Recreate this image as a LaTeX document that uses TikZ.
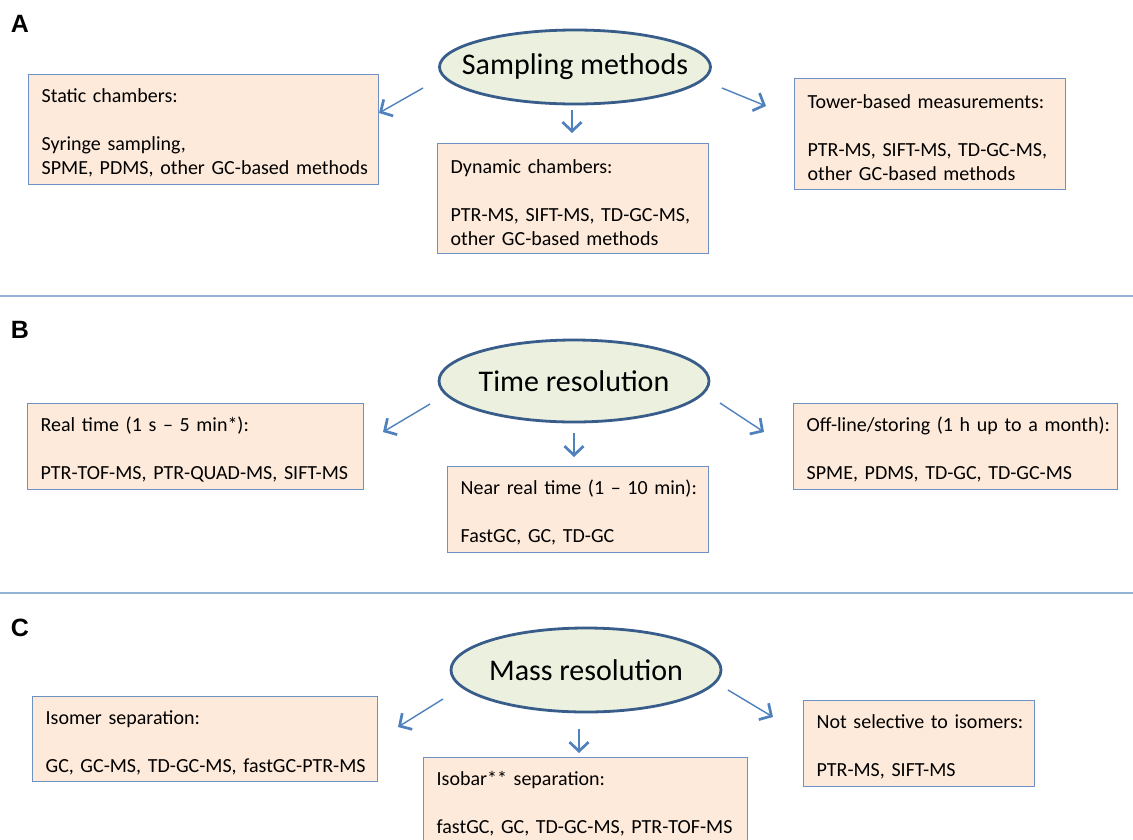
\documentclass[tikz,border=0pt]{standalone}
\usepackage{fontspec}
\setmainfont{Carlito}
\newfontfamily\lblfont{Liberation Sans}
\usetikzlibrary{arrows.meta,shapes.geometric}
\definecolor{boxfill}{RGB}{253,234,218}
\definecolor{boxline}{RGB}{110,145,195}
\definecolor{ellfill}{RGB}{235,241,222}
\definecolor{ellline}{RGB}{56,93,138}
\definecolor{arrcol}{RGB}{79,129,189}
\definecolor{sepcol}{RGB}{149,179,215}
\newcommand\tgap{\rule{0pt}{21pt}}
\begin{document}
\begin{tikzpicture}[x=1pt,y=-1pt,
  infobox/.style={draw=boxline, line width=1.3pt, fill=boxfill, rectangle,
    anchor=north west, inner xsep=13pt, inner ysep=0pt, align=left,
    font=\fontsize{20}{24}\selectfont},
  topic/.style={draw=ellline, line width=2.8pt, fill=ellfill, ellipse,
    inner sep=0pt},
  topictext/.style={font=\fontsize{30}{36}\selectfont, inner sep=0pt},
  panellabel/.style={font=\lblfont\bfseries\fontsize{25}{30}\selectfont, inner sep=0pt},
  sepline/.style={draw=sepcol, line width=2pt},
  arr/.style={draw=arrcol, line width=1.4pt,
    -{Straight Barb[length=9pt,width=19pt,line width=2.7pt]}}]
\useasboundingbox (0,0) rectangle (1133,839);
\fill[white] (0,0) rectangle (1133,839);
\clip (0,0) rectangle (1133,839);

% panel labels
\node[panellabel] (labA) at (20,24) {A};
\node[panellabel] (labB) at (20,330) {B};
\node[panellabel] (labC) at (20,628) {C};

% separators
\coordinate (s1a) at (0,296); \coordinate (s1b) at (1133,296);
\coordinate (s2a) at (0,593); \coordinate (s2b) at (1133,593);
\draw[sepline] (s1a) -- (s1b);
\draw[sepline] (s2a) -- (s2b);

% ---------- A ----------
\node[topic, minimum width=271, minimum height=74] (ellA) at (575,67) {};
\node[topictext] (ellAtext) at (ellA.center) {Sampling methods};
\node[infobox, minimum width=350, minimum height=110, text width=324] (static) at (28,74)
  {\tgap\mbox{Static chambers:}\\[24pt]\mbox{Syringe sampling,}\\\mbox{SPME, PDMS, other GC-based methods}};
\node[infobox, minimum width=271, minimum height=110, text width=245] (dynamic) at (437,143)
  {\tgap\mbox{Dynamic chambers:}\\[24pt]\mbox{PTR-MS, SIFT-MS, TD-GC-MS,}\\\mbox{other GC-based methods}};
\node[infobox, minimum width=271, minimum height=111, text width=245] (tower) at (794,78)
  {\tgap\mbox{Tower-based measurements:}\\[24pt]\mbox{PTR-MS, SIFT-MS, TD-GC-MS,}\\\mbox{other GC-based methods}};
\coordinate (aL1) at (423,88); \coordinate (aL2) at (379,113);
\coordinate (aD1) at (572,110); \coordinate (aD2) at (572,133);
\coordinate (aR1) at (722,88); \coordinate (aR2) at (766,106);
\draw[arr] (aL1) -- (aL2);
\draw[arr] (aD1) -- (aD2);
\draw[arr] (aR1) -- (aR2);

% ---------- B ----------
\node[topic, minimum width=270, minimum height=82] (ellB) at (574,381) {};
\node[topictext] (ellBtext) at (ellB.center) {Time resolution};
\node[infobox, minimum width=336, minimum height=86, text width=310] (realtime) at (27,403)
  {\tgap\mbox{Real time (1 s – 5 min*):}\\[24pt]\mbox{PTR-TOF-MS, PTR-QUAD-MS, SIFT-MS}};
\node[infobox, minimum width=261, minimum height=86, text width=235] (nearreal) at (447,466)
  {\tgap\mbox{Near real time (1 – 10 min):}\\[24pt]\mbox{FastGC, GC, TD-GC}};
\node[infobox, minimum width=324, minimum height=86, text width=298] (offline) at (793,403)
  {\tgap\mbox{Off-line/storing (1 h up to a month):}\\[24pt]\mbox{SPME, PDMS, TD-GC, TD-GC-MS}};
\coordinate (bL1) at (430,404); \coordinate (bL2) at (383,432);
\coordinate (bD1) at (574,433); \coordinate (bD2) at (574,457);
\coordinate (bR1) at (720,403); \coordinate (bR2) at (764,432);
\draw[arr] (bL1) -- (bL2);
\draw[arr] (bD1) -- (bD2);
\draw[arr] (bR1) -- (bR2);

% ---------- C ----------
\node[topic, minimum width=270, minimum height=84] (ellC) at (586,670) {};
\node[topictext] (ellCtext) at (ellC.center) {Mass resolution};
\node[infobox, minimum width=345, minimum height=85, text width=319] (isomer) at (32,696)
  {\tgap\mbox{Isomer separation:}\\[24pt]\mbox{GC, GC-MS, TD-GC-MS, fastGC-PTR-MS}};
\node[infobox, minimum width=324, minimum height=86, text width=298] (isobar) at (423,757)
  {\tgap\mbox{Isobar** separation:}\\[24pt]\mbox{fastGC, GC, TD-GC-MS, PTR-TOF-MS}};
\node[infobox, minimum width=231, minimum height=86, text width=205] (notsel) at (803,700)
  {\tgap\mbox{Not selective to isomers:}\\[24pt]\mbox{PTR-MS, SIFT-MS}};
\coordinate (cL1) at (443,699); \coordinate (cL2) at (398,727);
\coordinate (cD1) at (579,729); \coordinate (cD2) at (579,753);
\coordinate (cR1) at (728,690); \coordinate (cR2) at (773,717);
\draw[arr] (cL1) -- (cL2);
\draw[arr] (cD1) -- (cD2);
\draw[arr] (cR1) -- (cR2);
\end{tikzpicture}
\end{document}
